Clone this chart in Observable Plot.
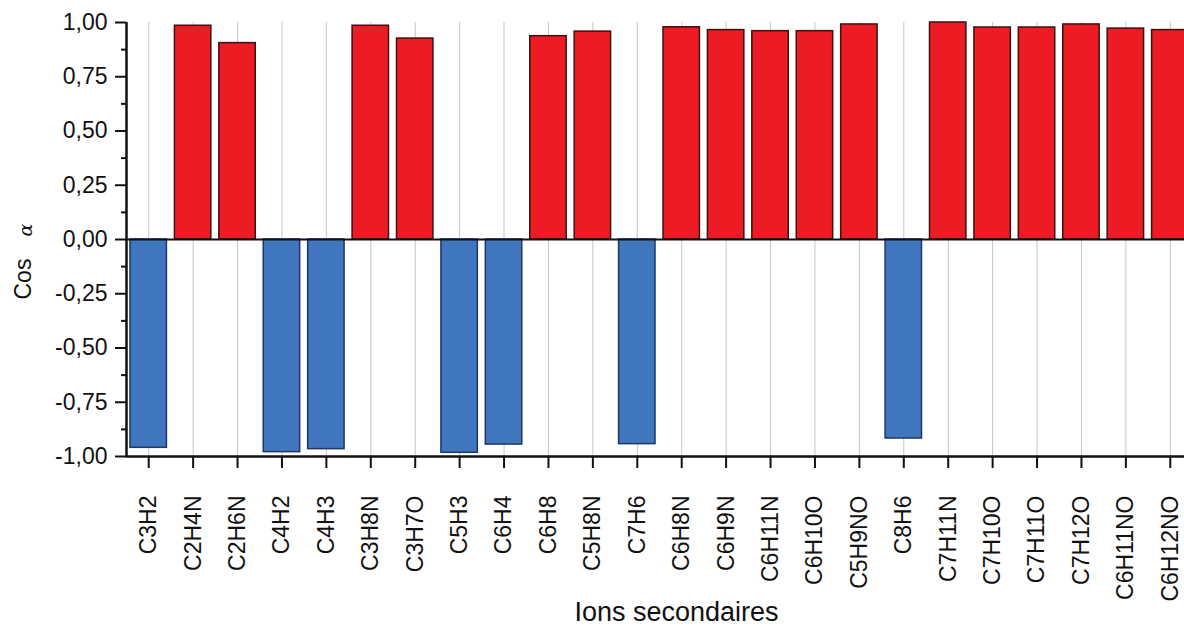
<!DOCTYPE html>
<html>
<head>
<meta charset="utf-8">
<script src="https://cdn.jsdelivr.net/npm/d3@7"></script>
<script src="https://cdn.jsdelivr.net/npm/@observablehq/plot@0.6"></script>
<style>
  html, body { margin: 0; padding: 0; background: #fff; }
  #chart svg { display: block; }
</style>
</head>
<body>
<div id="chart"></div>
<script>
const categories = ["C3H2","C2H4N","C2H6N","C4H2","C4H3","C3H8N","C3H7O","C5H3","C6H4","C6H8","C5H8N","C7H6","C6H8N","C6H9N","C6H11N","C6H10O","C5H9NO","C8H6","C7H11N","C7H10O","C7H11O","C7H12O","C6H11NO","C6H12NO"];
const cosValues = [-0.96, 0.985, 0.905, -0.98, -0.966, 0.985, 0.926, -0.983, -0.945, 0.937, 0.958, -0.943, 0.978, 0.965, 0.96, 0.96, 0.991, -0.917, 1.0, 0.977, 0.977, 0.991, 0.972, 0.965];
const majorTicks = [-1, -0.75, -0.5, -0.25, 0, 0.25, 0.5, 0.75, 1];
const minorTicks = [-0.875, -0.625, -0.375, -0.125, 0.125, 0.375, 0.625, 0.875];
const xTitle = "Ions secondaires";
const yTitleWord = "Cos";
const yTitleSymbol = "α";

const rows = categories.map((c, i) => ({ion: c, value: cosValues[i], sign: cosValues[i] >= 0 ? "pos" : "neg"}));
const fmt = d => d.toFixed(2).replace(".", ",");

const xRange = [126, 1192];
const step = (xRange[1] - xRange[0]) / categories.length;

const chart = Plot.plot({
  width: 1184,
  height: 637,
  marginTop: 22,
  marginBottom: 181,
  marginLeft: 126,
  marginRight: 0,
  style: {fontFamily: "'Liberation Sans', Arial, sans-serif", color: "#111", background: "#fff"},
  x: {domain: categories, range: xRange, paddingInner: 0.18, paddingOuter: 0.09, align: 0.5, round: false},
  y: {domain: [-1, 1]},
  color: {domain: ["pos", "neg"], range: ["#ED1C24", "#3F76BE"]},
  marks: [
    Plot.ruleX(rows, {x: "ion", y1: -1, y2: 1, stroke: "#c4c4c4", strokeWidth: 1}),
    Plot.barY(rows, {x: "ion", y: "value", fill: "sign", stroke: d => d.value >= 0 ? "#3a1212" : "#1d3767", strokeWidth: 1.5}),
    Plot.ruleY([0], {stroke: "#111", strokeWidth: 2}),
    Plot.ruleY([-1], {stroke: "#111", strokeWidth: 2.5}),
    Plot.ruleX([categories[0]], {y1: -1, y2: 1, dx: -step / 2, stroke: "#111", strokeWidth: 2.5}),
    Plot.axisY(majorTicks, {tickSize: 11, tickPadding: 8, tickFormat: fmt, fontSize: 23, strokeWidth: 2, label: null}),
    Plot.axisY(minorTicks, {tickSize: 5, tickFormat: () => "", strokeWidth: 2, label: null}),
    Plot.axisX({tickSize: 12, tickPadding: 27, tickRotate: -90, fontSize: 23, strokeWidth: 2, label: null}),
    Plot.text([xTitle], {frameAnchor: "bottom", dx: 21, dy: 164, fontSize: 27, fill: "#111"}),
    Plot.text([yTitleWord], {frameAnchor: "left", textAnchor: "start", rotate: -90, dx: -103, dy: 60, fontSize: 23, fill: "#111"}),
    Plot.text([yTitleSymbol], {frameAnchor: "left", textAnchor: "start", rotate: -90, dx: -101, dy: -3, fontSize: 19, fontStyle: "italic", fontFamily: "'DejaVu Serif', serif", fill: "#111"})
  ]
});
document.getElementById("chart").appendChild(chart);
</script>
</body>
</html>
